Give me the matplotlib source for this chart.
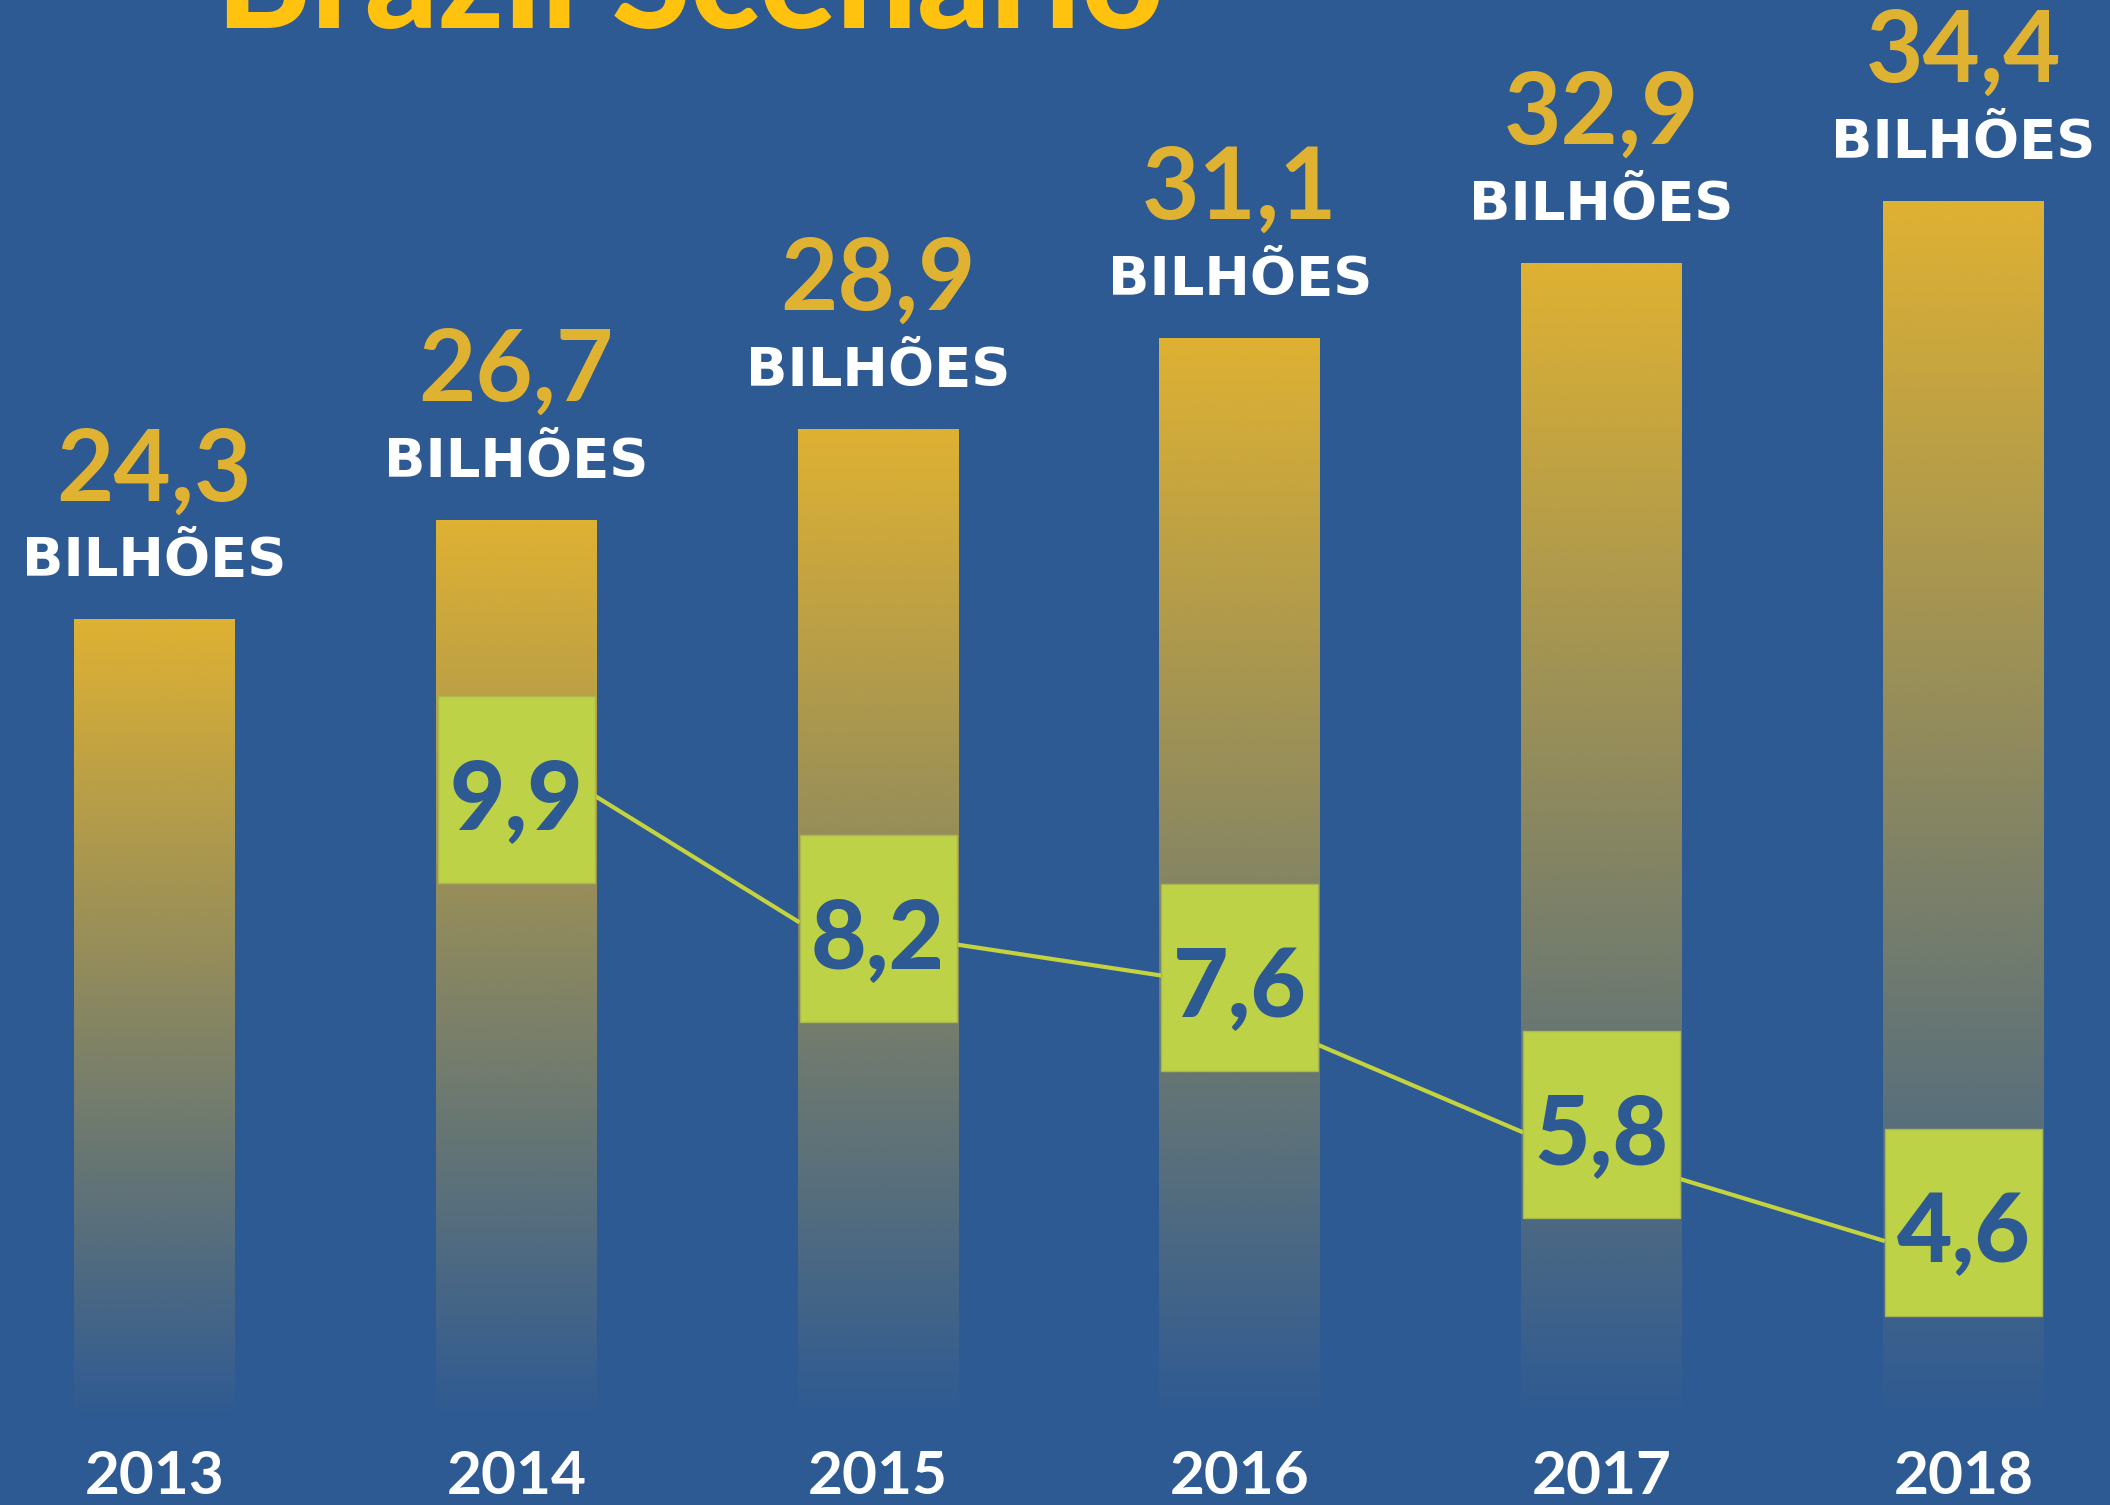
import numpy as np
import matplotlib
matplotlib.use("Agg")
import matplotlib.pyplot as plt
from matplotlib.colors import to_rgb

# ---------------- data ----------------
title = "Brazil Scenario"
years = ["2013", "2014", "2015", "2016", "2017", "2018"]
totals = [24.3, 26.7, 28.9, 31.1, 32.9, 34.4]          # bilhões
unit_label = "BILHÕES"
box_years = ["2014", "2015", "2016", "2017", "2018"]
box_values = [9.9, 8.2, 7.6, 5.8, 4.6]
# connector segments (start at right edge of a box, end at left edge of next box)
link_start = [9.82, 8.00, 6.77, 5.13]
link_end = [8.27, 7.62, 5.70, 4.37]

# ---------------- style ----------------
BG = "#2E5A93"
GOLD = "#E0B232"
TITLE_GOLD = "#FFC20E"
GREEN = "#BDD246"
GREEN_EDGE = "#A9B652"
LINE = "#C5D33F"
W, H, DPI = 2110, 1505, 100

fig = plt.figure(figsize=(W / DPI, H / DPI), dpi=DPI, facecolor=BG)
ax = fig.add_axes([0, 0, 1, 1])
ax.set_facecolor(BG)
ax.set_xlim(-0.427, 5.405)
ax.set_ylim(2.92, 39.25)
ax.axis("off")

ax2 = ax.twinx()
ax2.set_ylim(1.14, 19.56)
ax2.axis("off")

x = np.arange(len(years))
bar_w = 0.445
fade_floor = 5.0

bars = ax.bar(x, totals, width=bar_w, facecolor="none", edgecolor="none")
gold = to_rgb(GOLD)
for b, v in zip(bars, totals):
    n = 512
    img = np.zeros((n, 1, 4))
    img[..., :3] = gold
    img[:, 0, 3] = np.linspace(0, 1, n)
    l = b.get_x()
    r = l + b.get_width()
    im = ax.imshow(img, extent=[l, r, fade_floor, v], origin="lower",
                   aspect="auto", interpolation="bilinear", zorder=1)
    im.set_clip_path(b)

renderer = fig.canvas.get_renderer()


def fit_width(t, target_px):
    w = t.get_window_extent(renderer).width
    t.set_fontsize(t.get_fontsize() * target_px / w)


def fmt(v):
    return f"{v:.1f}".replace(".", ",")


# value labels above bars
for xi, v in zip(x, totals):
    t1 = ax.annotate(fmt(v), xy=(xi, v), xytext=(0, 119), textcoords="offset pixels",
                     ha="center", va="baseline", color=GOLD, fontsize=60,
                     family="Lato", weight="bold", annotation_clip=False)
    fit_width(t1, 196)
    t2 = ax.annotate(unit_label, xy=(xi, v), xytext=(0, 43), textcoords="offset pixels",
                     ha="center", va="baseline", color="white", fontsize=40,
                     family="DejaVu Sans", weight="bold", annotation_clip=False)
    fit_width(t2, 264)

# year labels
for xi, yr in zip(x, years):
    t = ax.annotate(yr, xy=(xi, H - 1494), xycoords=("data", "figure pixels"),
                    ha="center", va="baseline", color="white", fontsize=45,
                    family="Lato", weight="bold", annotation_clip=False)
    fit_width(t, 140)

# green boxes
box_x = np.array([years.index(y) for y in box_years])
box_w = 0.434
box_h = 2.29
ax2.bar(box_x, [box_h] * len(box_values), bottom=np.array(box_values) - box_h / 2,
        width=box_w, color=GREEN, edgecolor=GREEN_EDGE, linewidth=1, zorder=3)

for i in range(len(link_start)):
    ax2.plot([box_x[i] + box_w / 2, box_x[i + 1] - box_w / 2],
             [link_start[i], link_end[i]], color=LINE, lw=3.0,
             solid_capstyle="butt", zorder=2)

for bx, v in zip(box_x, box_values):
    t = ax2.annotate(fmt(v), xy=(bx, v), xytext=(0, -40), textcoords="offset pixels",
                     ha="center", va="baseline", color=BG, fontsize=60,
                     family="Lato", weight="black", zorder=4)
    fit_width(t, 134)

# title (cut off at the top, as in the original)
tt = fig.text(689.5 / W, 1 - 28 / H, title, ha="center", va="baseline",
              color=TITLE_GOLD, fontsize=90, family="Lato", weight="black")
fit_width(tt, 949)

fig.savefig("out.png", dpi=DPI, facecolor=BG)
